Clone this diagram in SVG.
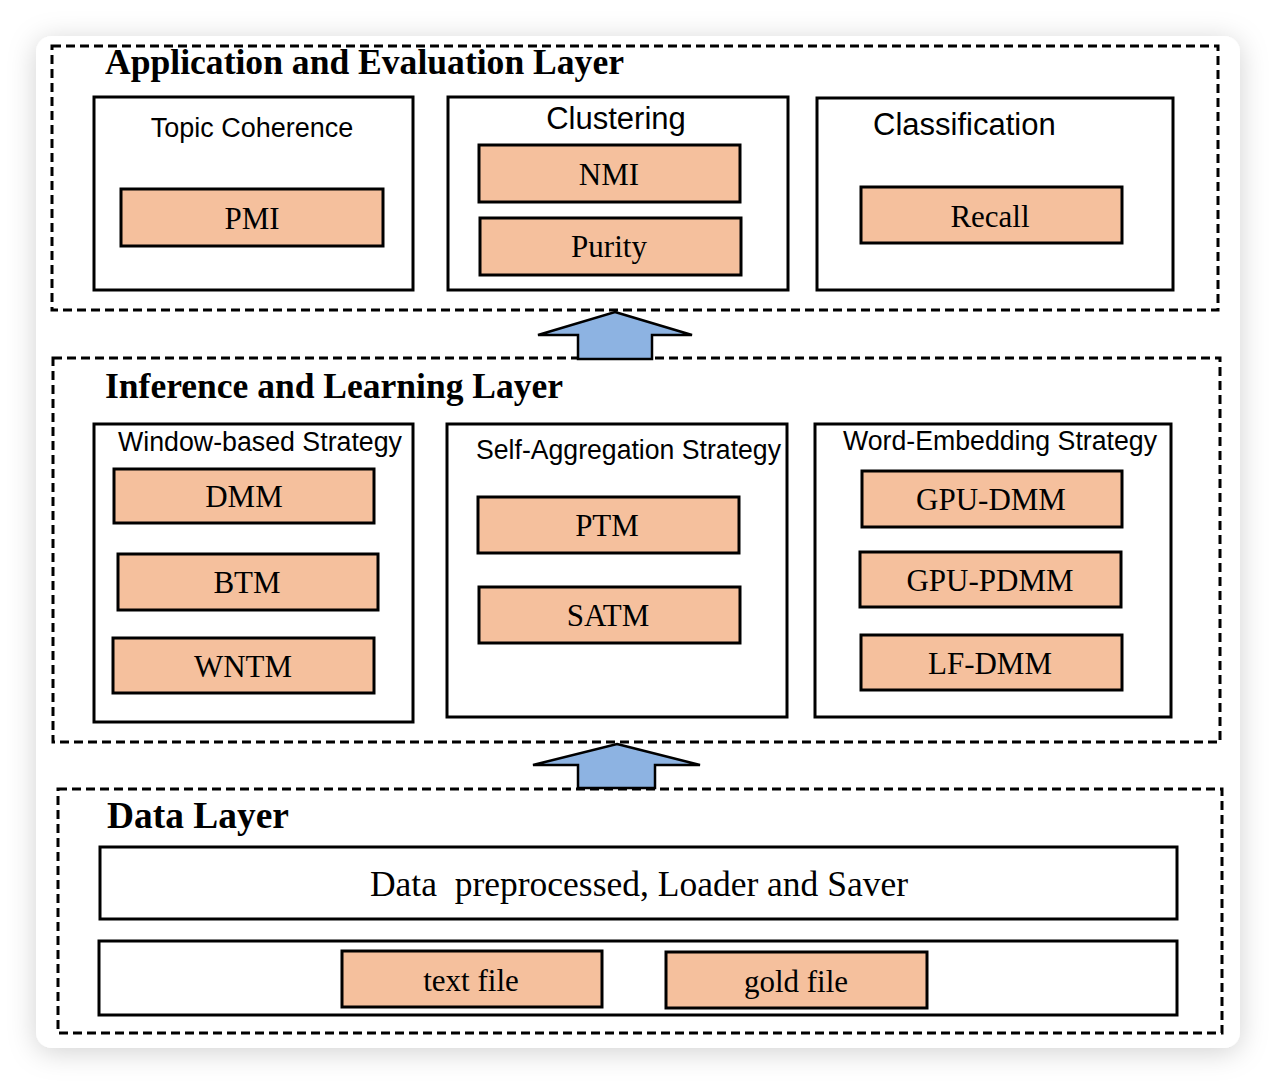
<svg xmlns="http://www.w3.org/2000/svg" width="1276" height="1084" viewBox="0 0 1276 1084">
<defs>
<filter id="sh" x="-10%" y="-10%" width="120%" height="120%"><feDropShadow dx="0" dy="4" stdDeviation="14" flood-color="#000" flood-opacity="0.18"/></filter>
<style>
.layer{fill:none;stroke:#000;stroke-width:3;stroke-dasharray:9 5}
.box{fill:#fff;stroke:#000;stroke-width:3}
.item{fill:#F5C09D;stroke:#000;stroke-width:3}
.lt{font-family:"Liberation Serif",serif;font-weight:bold;font-size:35.5px;fill:#000}
.bt{font-family:"Liberation Sans",Arial,sans-serif;font-size:27px;fill:#000}
.it{font-family:"Liberation Serif",serif;font-size:31px;fill:#000;text-anchor:middle}
.arrow{fill:#8DB3E2;stroke:#000;stroke-width:2.5;stroke-linejoin:miter}
</style>
</defs>
<rect width="1276" height="1084" fill="#fff"/>
<rect x="36" y="36" width="1204" height="1012" rx="16" fill="#fff" filter="url(#sh)"/>

<g id="layer-app">
<rect class="layer" x="52" y="46" width="1166" height="264"/>
<text class="lt" x="105" y="74" textLength="519" lengthAdjust="spacingAndGlyphs">Application and Evaluation Layer</text>
</g>
<g id="topic-coherence">
<rect class="box" x="94" y="97" width="319" height="193"/>
<text class="bt" x="252" y="137" text-anchor="middle">Topic Coherence</text>
</g>
<g id="pmi"><rect class="item" x="121" y="189" width="262" height="57"/><text class="it" x="252" y="229">PMI</text></g>
<g id="clustering">
<rect class="box" x="448" y="97" width="340" height="193"/>
<text class="bt" x="616" y="129" text-anchor="middle" style="font-size:31px">Clustering</text>
</g>
<g id="nmi"><rect class="item" x="479" y="145" width="261" height="57"/><text class="it" x="609" y="185">NMI</text></g>
<g id="purity"><rect class="item" x="480" y="218" width="261" height="57"/><text class="it" x="609" y="257">Purity</text></g>
<g id="classification">
<rect class="box" x="817" y="98" width="356" height="192"/>
<text class="bt" x="873" y="135" style="font-size:31px">Classification</text>
</g>
<g id="recall"><rect class="item" x="861" y="187" width="261" height="56"/><text class="it" x="990" y="227">Recall</text></g>

<g id="layer-inf">
<rect class="layer" x="53" y="358" width="1167" height="384"/>
<text class="lt" x="105" y="398" textLength="458" lengthAdjust="spacingAndGlyphs">Inference and Learning Layer</text>
</g>
<g id="window">
<rect class="box" x="94" y="424" width="319" height="298"/>
<text class="bt" x="118" y="451" textLength="284" lengthAdjust="spacingAndGlyphs">Window-based Strategy</text>
</g>
<g id="dmm"><rect class="item" x="114" y="469" width="260" height="54"/><text class="it" x="244" y="507">DMM</text></g>
<g id="btm"><rect class="item" x="118" y="554" width="260" height="56"/><text class="it" x="247" y="593">BTM</text></g>
<g id="wntm"><rect class="item" x="113" y="638" width="261" height="55"/><text class="it" x="243" y="677">WNTM</text></g>
<g id="self">
<rect class="box" x="447" y="424" width="340" height="293"/>
<text class="bt" x="476" y="459" textLength="305" lengthAdjust="spacingAndGlyphs">Self-Aggregation Strategy</text>
</g>
<g id="ptm"><rect class="item" x="478" y="497" width="261" height="56"/><text class="it" x="607" y="536">PTM</text></g>
<g id="satm"><rect class="item" x="479" y="587" width="261" height="56"/><text class="it" x="608" y="626">SATM</text></g>
<g id="word">
<rect class="box" x="815" y="424" width="356" height="293"/>
<text class="bt" x="843" y="450" textLength="314" lengthAdjust="spacingAndGlyphs">Word-Embedding Strategy</text>
</g>
<g id="gpudmm"><rect class="item" x="862" y="471" width="260" height="56"/><text class="it" x="991" y="510">GPU-DMM</text></g>
<g id="gpupdmm"><rect class="item" x="860" y="552" width="261" height="55"/><text class="it" x="990" y="591">GPU-PDMM</text></g>
<g id="lfdmm"><rect class="item" x="861" y="635" width="261" height="55"/><text class="it" x="990" y="674">LF-DMM</text></g>

<g id="layer-data">
<rect class="layer" x="58" y="789" width="1164" height="244"/>
<text class="lt" x="107" y="828" style="font-size:37px" textLength="182" lengthAdjust="spacingAndGlyphs">Data Layer</text>
</g>
<g id="loader">
<rect class="box" x="100" y="847" width="1077" height="72"/>
<text class="it" x="639" y="896" style="font-size:35.5px" xml:space="preserve">Data  preprocessed, Loader and Saver</text>
</g>
<g id="files"><rect class="box" x="99" y="941" width="1078" height="74"/></g>
<g id="textfile"><rect class="item" x="342" y="951" width="260" height="56"/><text class="it" x="471" y="991">text file</text></g>
<g id="goldfile"><rect class="item" x="666" y="952" width="261" height="56"/><text class="it" x="796" y="992">gold file</text></g>

<g id="connectors">
<polygon class="arrow" points="615,312 692,335 652,335 652,359 578,359 578,335 538,335"/>
<polygon class="arrow" points="617,744 700,765 655,765 655,788 578,788 578,765 533,765"/>
</g>
</svg>
